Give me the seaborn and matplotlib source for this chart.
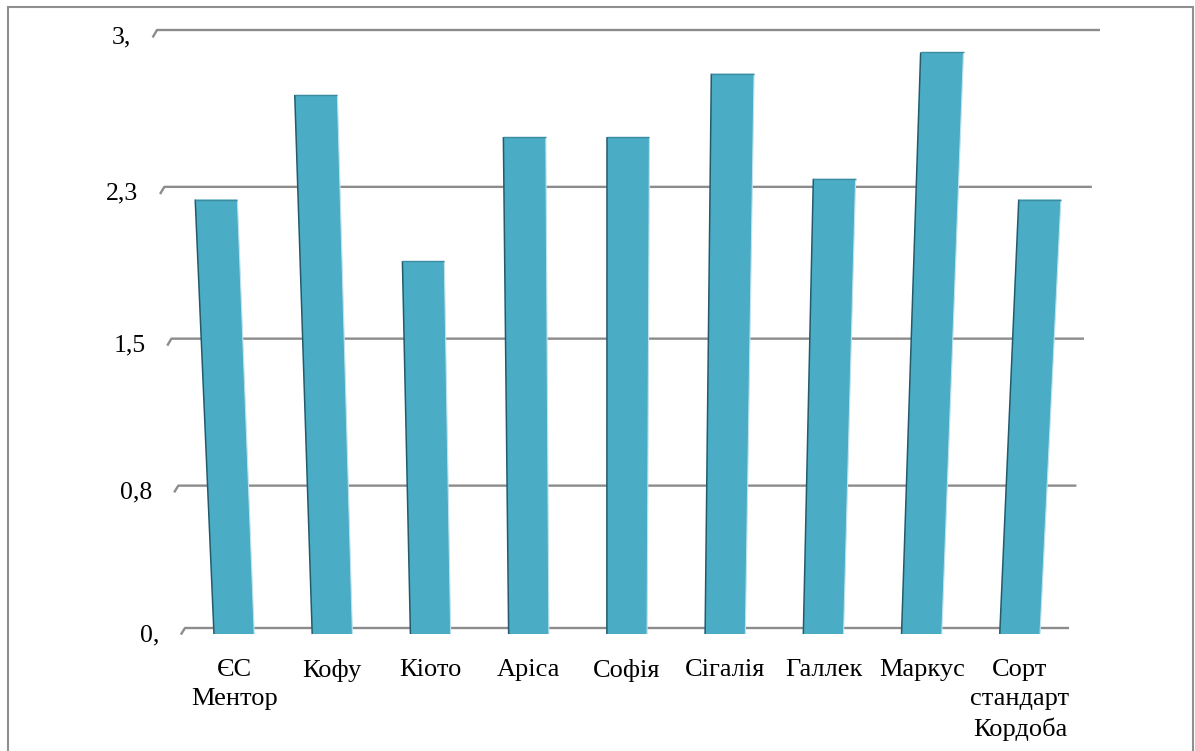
import numpy as np
import pandas as pd
import matplotlib
matplotlib.use("Agg")
import matplotlib.pyplot as plt
import matplotlib.transforms as mtransforms
from matplotlib.patches import Rectangle
import seaborn as sns

# Data
categories = ["ЄС\nМентор", "Кофу", "Кіото", "Аріса", "Софія",
              "Сігалія", "Галлек", "Маркус", "Сорт\nстандарт\nКордоба"]
values = [2.2, 2.7, 1.9, 2.5, 2.5, 2.8, 2.3, 2.9, 2.2]
tick_values = [0, 0.75, 1.5, 2.25, 3.0]
tick_labels = ["0,", "0,8", "1,5", "2,3", "3,"]

BAR = "#4BACC6"
EDGE_DARK = "#245b6b"
EDGE_TOP = "#3b8ba1"
EDGE_LIGHT = "#bfe3ee"
GRID = "#8c8c8c"

FIG_W, FIG_H = 1195, 751


class Projective(mtransforms.Transform):
    """Planar homography applied in display space (gives the tilted 3-D look)."""
    input_dims = 2
    output_dims = 2
    is_separable = False
    has_inverse = True

    def __init__(self, M):
        super().__init__()
        self.M = np.asarray(M, float)

    def transform_non_affine(self, values):
        v = np.asarray(values, float).reshape(-1, 2)
        p = np.column_stack([v, np.ones(len(v))]) @ self.M.T
        return p[:, :2] / p[:, 2:3]

    def inverted(self):
        return Projective(np.linalg.inv(self.M))


def solve_homography(src, dst):
    A, b = [], []
    for (x, y), (X, Y) in zip(src, dst):
        A.append([x, y, 1, 0, 0, 0, -X * x, -X * y]); b.append(X)
        A.append([0, 0, 0, x, y, 1, -Y * x, -Y * y]); b.append(Y)
    h = np.linalg.solve(np.array(A, float), np.array(b, float))
    return np.append(h, 1.0).reshape(3, 3)


# Wall corners in pixel space (y measured from the top edge)
unit_corners = [(0, 0), (1, 0), (0, 1), (1, 1)]
pixel_corners = [(185, 628), (1069, 628), (157, 30), (1100, 30)]
display_corners = [(x, FIG_H - y) for x, y in pixel_corners]
H = solve_homography(unit_corners, display_corners)

sns.set_theme(style="white")
plt.rcParams["font.family"] = ["Liberation Serif", "DejaVu Serif"]

fig = plt.figure(figsize=(FIG_W / 100, FIG_H / 100), dpi=100)
ax = fig.add_axes([0, 0, 1, 1])

df = pd.DataFrame({"variety": categories, "value": values})
sns.barplot(data=df, x="variety", y="value", color=BAR, saturation=1,
            width=0.41, errorbar=None, ax=ax)

ax.set_xlim(-0.5, 8.5)
ax.set_ylim(0, 3)
ax.axis("off")

T_data = ax.transScale + ax.transLimits + Projective(H)
# Bars stand slightly in front of the wall: pushed down more near the floor
wall_top = FIG_H - 30
depth = (mtransforms.Affine2D()
         .scale(1, 1 + 5 / 598)
         .translate(0, -1 - 5 * wall_top / 598))
T_bar = T_data + depth

for p in ax.patches:
    p.set_transform(T_bar)
    p.set_edgecolor("none")
    p.set_zorder(3)
    p.set_clip_on(False)

# Shaded side, highlight and top edges of each bar
half = 0.41 / 2
for i, val in enumerate(values):
    ax.plot([i - half, i - half], [0, val], transform=T_bar, color=EDGE_DARK,
            lw=1.1, solid_capstyle="butt", zorder=4, clip_on=False)
    ax.plot([i + half, i + half], [0, val], transform=T_bar, color=EDGE_LIGHT,
            lw=0.8, solid_capstyle="butt", zorder=4, clip_on=False)
    ax.plot([i - half, i + half], [val, val], transform=T_bar, color=EDGE_TOP,
            lw=1.0, solid_capstyle="butt", zorder=4, clip_on=False)

# Gridlines with the small bevel at the left end
for t in tick_values:
    ax.plot([-0.545, -0.5, 8.5], [t - 0.035, t, t], transform=T_data,
            color=GRID, lw=1.7, zorder=1, solid_joinstyle="round",
            solid_capstyle="butt", clip_on=False)

# Value axis labels
for t, lab in zip(tick_values, tick_labels):
    ax.text(-0.5, t, lab,
            transform=T_data + mtransforms.Affine2D().translate(-26, -13),
            ha="right", va="baseline", fontsize=18.5, color="black")

# Category labels
for i, cat in enumerate(categories):
    ax.text(i, 0, cat,
            transform=T_data + mtransforms.Affine2D().translate(0, -31),
            ha="center", va="top", fontsize=19, linespacing=1.42,
            color="black")

# Outer frame
fig.add_artist(Rectangle((8, -20), 1185, 764, transform=mtransforms.IdentityTransform(),
                         fill=False, edgecolor="#8f8f8f", lw=1.5))

fig.savefig("out.png", dpi=100)
